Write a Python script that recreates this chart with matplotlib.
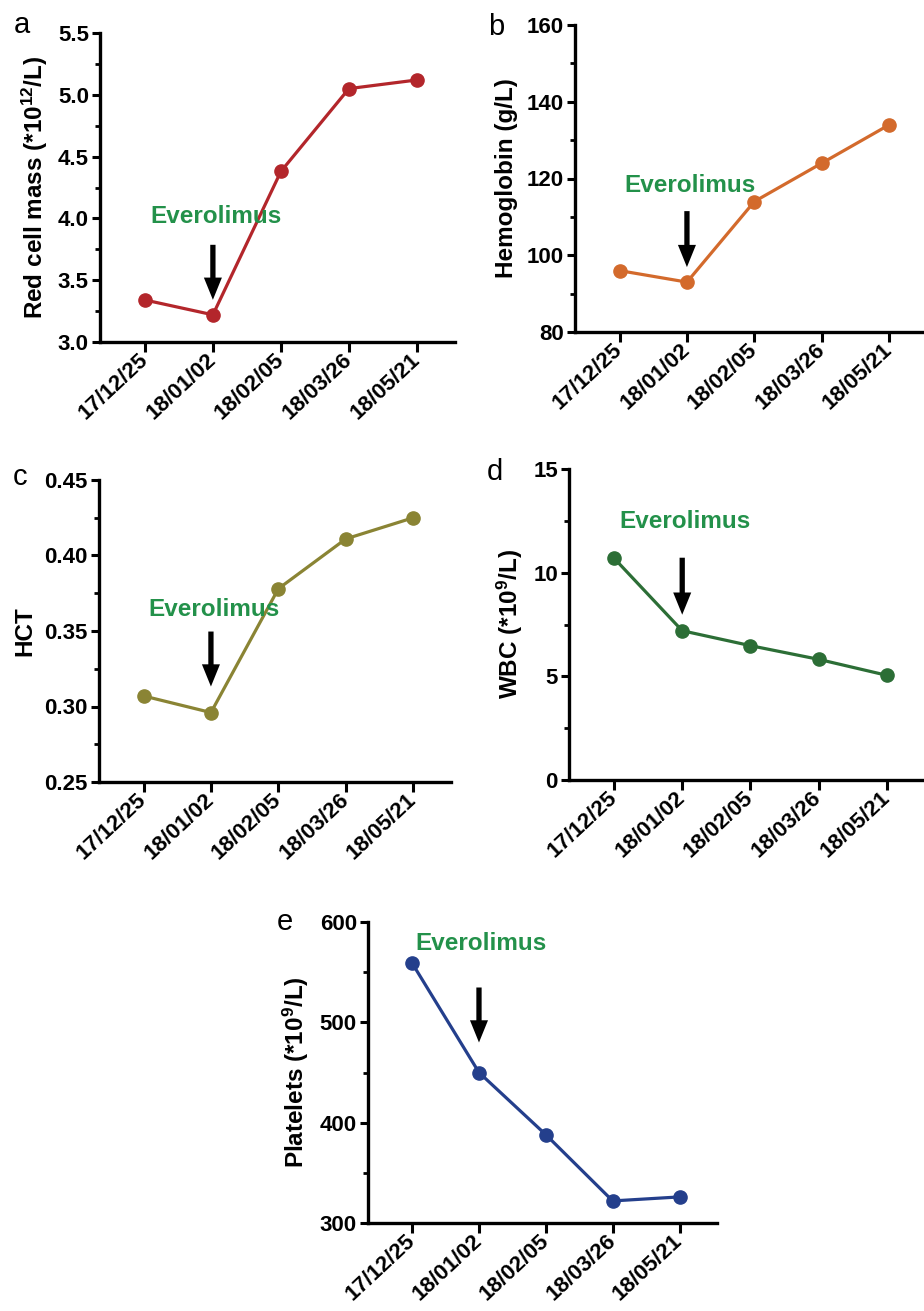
import numpy as np
import matplotlib
matplotlib.use("Agg")
import matplotlib.pyplot as plt
from matplotlib.ticker import AutoMinorLocator, FormatStrFormatter
from matplotlib.transforms import offset_copy

plt.rcParams['font.family'] = ['Liberation Sans', 'DejaVu Sans']
plt.rcParams['font.weight'] = 'bold'
plt.rcParams['mathtext.fontset'] = 'custom'
plt.rcParams['mathtext.rm'] = 'Liberation Sans:bold'
plt.rcParams['mathtext.bf'] = 'Liberation Sans:bold'
plt.rcParams['mathtext.default'] = 'rm'

# data
dates = ['17/12/25', '18/01/02', '18/02/05', '18/03/26', '18/05/21']
rbc = [3.34, 3.22, 4.38, 5.05, 5.12]
hgb = [96, 93, 114, 124, 134]
hct = [0.307, 0.296, 0.378, 0.411, 0.425]
wbc = [10.7, 7.2, 6.48, 5.82, 5.05]
plt_count = [559, 450, 388, 322, 326]

W, H = 924, 1311
fig = plt.figure(figsize=(W / 100, H / 100), dpi=100)

def px_axes(left, top, right, bottom):
    return fig.add_axes([left / W, 1 - bottom / H, (right - left) / W, (bottom - top) / H])

# letter, values, colour, ylabel, yticks, fmt, axes box (px), letter pos (px),
# arrow tip / tail / text offsets above 2nd point (px), text x shift (px)
panels = [
    ('a', rbc, '#B3262B', r'Red cell mass (*10$^{12}$/L)', np.arange(3.0, 5.51, 0.5), '%.1f',
     (100, 33, 455, 342), (14, 33), (15, 70, 98), 3),
    ('b', hgb, '#D36A2C', 'Hemoglobin (g/L)', np.arange(80, 161, 20), '%d',
     (575, 25, 927, 332), (488, 35), (15, 71, 97), 3),
    ('c', hct, '#8A8434', 'HCT', np.arange(0.25, 0.451, 0.05), '%.2f',
     (99, 480, 451, 782), (13, 485), (26, 81, 103), 3),
    ('d', wbc, '#2C6E36', r'WBC (*10$^{9}$/L)', np.arange(0, 16, 5), '%d',
     (569, 469, 925, 780), (487, 480), (16, 73, 109), 3),
    ('e', plt_count, '#243F8C', r'Platelets (*10$^{9}$/L)', np.arange(300, 601, 100), '%d',
     (368, 922, 717, 1223), (277, 930), (30, 85, 129), 2),
]

x = np.arange(len(dates))
for letter, vals, col, ylab, yt, fmt, box, lpos, arr, tx in panels:
    ax = px_axes(*box)
    ax.plot(x, vals, color=col, lw=2.3, marker='o', ms=9.5, zorder=3, clip_on=False)
    ax.set_xlim(-0.66, 4.56)
    ax.set_ylim(yt[0], yt[-1])
    ax.set_yticks(yt)
    ax.yaxis.set_major_formatter(FormatStrFormatter(fmt))
    ax.yaxis.set_minor_locator(AutoMinorLocator(2))
    ax.set_xticks(x)
    ax.set_xticklabels(dates, rotation=43, ha='right', va='center', rotation_mode='anchor')
    for s in ['top', 'right']:
        ax.spines[s].set_visible(False)
    for s in ['left', 'bottom']:
        ax.spines[s].set_linewidth(2.4)
    ax.tick_params(axis='y', which='major', length=6, width=2.2, labelsize=16, pad=2)
    ax.tick_params(axis='y', which='minor', length=3.5, width=2.0)
    ax.tick_params(axis='x', which='major', length=7, width=2.2, labelsize=16, pad=4)
    ax.set_ylabel(ylab, fontsize=17.5, fontweight='bold', labelpad=6)

    # Everolimus arrow above the second point
    tip, tail, txt = [v * 0.72 for v in arr]
    tip_tr = offset_copy(ax.transData, fig=fig, x=0, y=tip, units='points')
    ax.annotate('', xy=(1, vals[1]), xycoords=tip_tr,
                xytext=(0, tail - tip), textcoords='offset points',
                arrowprops=dict(width=3.8, headwidth=13, headlength=16, facecolor='black',
                                edgecolor='none', shrink=0),
                annotation_clip=False)
    ax.annotate('Everolimus', xy=(1, vals[1]), xytext=(tx * 0.72, txt), textcoords='offset points',
                ha='center', va='center', fontsize=17.5, fontweight='bold', color='#23914A',
                annotation_clip=False)

    fig.text(lpos[0] / W, 1 - lpos[1] / H, letter, fontsize=21, fontweight='normal',
             ha='left', va='baseline')

fig.savefig('out.png', dpi=100)
